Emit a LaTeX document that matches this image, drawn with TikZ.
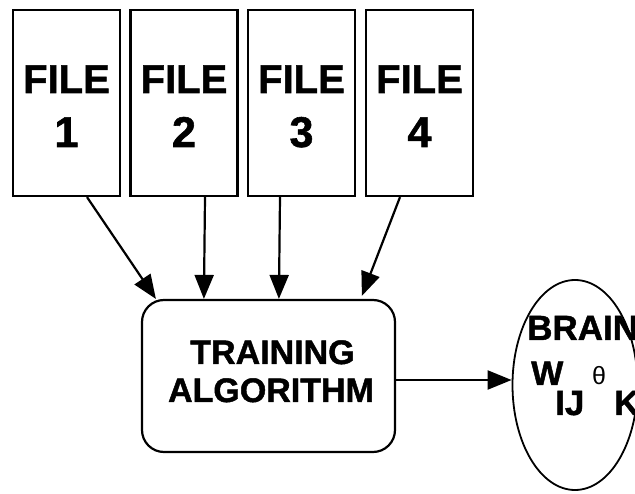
\documentclass[tikz,border=0pt]{standalone}
\usepackage{fontspec}
\setmainfont{Liberation Sans}
\newfontfamily\heavy{Liberation Sans Bold}[FakeBold=1.3]
\usetikzlibrary{arrows.meta,shapes.geometric,calc}

\tikzset{
  filebox/.style={draw, line width=2.2pt, minimum width=107pt, minimum height=186pt, inner sep=0pt},
  procbox/.style={draw, line width=2.2pt, rounded corners=22pt, minimum width=253pt, minimum height=152pt, inner sep=0pt},
  store/.style={draw, ellipse, line width=1.8pt, minimum width=125pt, minimum height=210pt, inner sep=0pt},
  bigtxt/.style={font=\fontsize{40}{40}\heavy, anchor=base, inner sep=0pt},
  numtxt/.style={font=\fontsize{43}{43}\heavy, anchor=base, inner sep=0pt},
  midtxt/.style={font=\fontsize{34}{34}\heavy, anchor=base, inner sep=0pt},
  lbl/.style={anchor=base west, inner sep=0pt},
  flow/.style={line width=2.2pt, -{Triangle[length=24pt,width=19pt]}},
}

\begin{document}
\begin{tikzpicture}[x=1pt,y=-1pt]
\useasboundingbox (0,0) rectangle (635,494);

% input files
\node[filebox] (f1) at (66.5,103) {};
\node[filebox] (f2) at (184,103) {};
\node[filebox] (f3) at (301.5,103) {};
\node[filebox] (f4) at (419.5,103) {};
\foreach \n/\x in {1/66.5,2/184,3/301.5,4/419.5}{
  \node[bigtxt] (t\n a) at (\x,93) {FILE};
  \node[numtxt] (t\n b) at (\x,147) {\n};
}

% training stage
\node[procbox] (train) at (268.5,376) {};
\node[midtxt] (tr1) at (272.5,364) {TRAINING};
\node[midtxt] (tr2) at (271,402) {ALGORITHM};

% resulting network
\node[store] (brain) at (575,385) {};
\node[lbl, font=\fontsize{35}{35}\heavy] (bw) at (527,340) {BRAIN};
\node[lbl, font=\fontsize{34}{34}\heavy] (w) at (531,385) {W};
\node[lbl, font=\fontsize{35}{35}\heavy] (ij) at (555,415) {IJ};
\node[lbl, font=\fontsize{25}{25}\selectfont] (th) at (592,385) {θ};
\node[lbl, font=\fontsize{35}{35}\heavy] (k) at (614,415) {K};

% connectors
\draw[flow] ($(f1.south)+(20.5,0)$) -- ($(train.north west)+(15,0)$);
\draw[flow] ($(f2.south)+(21,0)$) -- ($(train.north west)+(63,0)$);
\draw[flow] ($(f3.south)+(-21.5,0)$) -- ($(train.north west)+(138,0)$);
\draw[flow] ($(f4.south)+(-19.5,0)$) -- ($(train.north west)+(221,-3)$);
\draw[flow] (train.east |- 0,380) -- (brain.west |- 0,380);
\end{tikzpicture}
\end{document}
